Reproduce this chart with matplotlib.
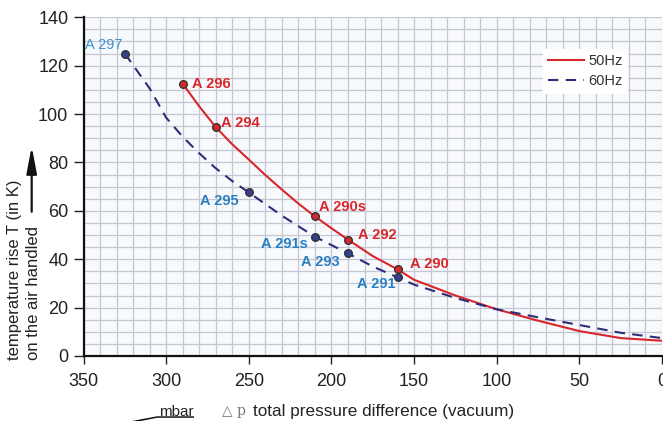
import matplotlib
matplotlib.use("Agg")
import matplotlib.pyplot as plt
from matplotlib.patches import FancyArrowPatch, Polygon
from matplotlib.ticker import MultipleLocator

plt.rcParams['font.family'] = ['Liberation Sans', 'DejaVu Sans']

# curve readings (pressure difference in mbar, temperature rise in K)
p_50 = [290, 280, 270, 260, 250, 240, 230, 220, 210, 200, 190, 175, 160, 150, 125, 100, 75, 50, 25, 0]
t_50 = [112.5, 103.2, 94.6, 87.5, 81.2, 74.8, 68.8, 63.0, 57.7, 52.8, 48.1, 41.3, 35.8, 31.5, 25.0, 19.3, 14.6, 10.3, 7.4, 6.3]
p_60 = [325, 310, 300, 290, 280, 270, 260, 250, 230, 210, 190, 175, 160, 150, 125, 100, 75, 50, 25, 0]
t_60 = [125.0, 110.6, 98.5, 90.6, 83.8, 77.6, 72.3, 67.6, 58.0, 49.3, 42.4, 37.0, 32.5, 29.5, 24.0, 19.3, 16.0, 12.8, 9.6, 7.4]

# labelled pump points
pts_50 = [290, 270, 210, 190, 160]
val_50 = [112.5, 94.6, 57.7, 48.1, 35.8]
lab_50 = ["A 296", "A 294", "A 290s", "A 292", "A 290"]
pts_60 = [325, 250, 210, 190, 160]
val_60 = [125.0, 67.6, 49.3, 42.4, 32.5]
lab_60 = ["A 297", "A 295", "A 291s", "A 293", "A 291"]

red = "#d8262a"
navy = "#2d2e78"
lblue = "#2b7fc1"

fig = plt.figure(figsize=(6.63, 4.21), dpi=100)
ax = fig.add_axes([0.126, 0.1544, 0.8725, 0.8045])
ax.set_facecolor("#f7f9fc")

ax.plot(p_50, t_50, color=red, lw=1.5, label="50Hz", zorder=3)
ax.plot(p_60, t_60, color=navy, lw=1.5, ls=(0, (5, 3.5)), label="60Hz", zorder=3)

ax.scatter(pts_50, val_50, s=30, color=red, edgecolor="#333333", lw=1.0, zorder=4)
ax.scatter(pts_60, val_60, s=30, color="#34408f", edgecolor="#333333", lw=1.0, zorder=4)

# label offsets in points
off_50 = [(7, 0), (4, 3), (3, 7), (7, 3), (9, 4)]
for p, t, s, o in zip(pts_50, val_50, lab_50, off_50):
    ax.annotate(s, (p, t), xytext=o, textcoords="offset points", color=red,
                fontsize=10.5, fontweight="bold", va="center", zorder=5)

off_60 = [(-2, 6), (-7, -6), (-5, -5), (-6, -6), (-1.5, -5)]
for i, (p, t, s, o) in enumerate(zip(pts_60, val_60, lab_60, off_60)):
    c = "#3d93d4" if i == 0 else lblue
    ax.annotate(s, (p, t), xytext=o, textcoords="offset points", color=c,
                fontsize=10.5, fontweight="normal" if i == 0 else "bold",
                ha="right", va="center", zorder=5)

ax.set_xlim(350, 0)
ax.set_ylim(0, 140)
ax.xaxis.set_major_locator(MultipleLocator(50))
ax.xaxis.set_minor_locator(MultipleLocator(10))
ax.yaxis.set_major_locator(MultipleLocator(20))
ax.yaxis.set_minor_locator(MultipleLocator(5))
ax.grid(which="both", color="#c3c7d3", lw=0.9, zorder=0)
ax.set_axisbelow(True)
ax.tick_params(which="minor", length=0)
ax.tick_params(axis="x", which="major", length=6, width=1.0, pad=6, labelsize=13, colors="#222222")
ax.tick_params(axis="y", which="major", length=7, width=1.0, pad=4, labelsize=13, colors="#222222")
for s in ["top", "right"]:
    ax.spines[s].set_visible(False)
for s in ["left", "bottom"]:
    ax.spines[s].set_linewidth(1.6)
    ax.spines[s].set_color("#111111")

leg = ax.legend(loc="upper right", bbox_to_anchor=(0.94, 0.905), frameon=True, fancybox=False,
                edgecolor="white", framealpha=1, fontsize=10.5, handlelength=2.5,
                handletextpad=0.3, borderpad=0.3, labelspacing=0.45, borderaxespad=0)
for t in leg.get_texts():
    t.set_color("#333333")

# y axis label with arrow
fig.text(0.0226, 0.145, "temperature rise T (in K)", rotation=90, ha="center", va="bottom",
         fontsize=12, color="#222222")
fig.text(0.0498, 0.145, "on the air handled", rotation=90, ha="center", va="bottom",
         fontsize=12, color="#222222")
fig.add_artist(FancyArrowPatch((0.0478, 0.497), (0.0478, 0.652), transform=fig.transFigure,
               arrowstyle="-|>,head_length=1.15,head_width=0.22", mutation_scale=14,
               color="#111111", lw=1.6, shrinkA=0, shrinkB=0))

# x axis label
fig.text(0.335, 0.024, "\u25b3 p", fontsize=10, color="#777777", family="DejaVu Serif",
         ha="left", va="center")
fig.text(0.3816, 0.022, "total pressure difference (vacuum)", fontsize=12.3, color="#222222",
         ha="left", va="center")
fig.text(0.240, 0.022, "mbar", fontsize=11, color="#222222", ha="left", va="center")
wedge = [(132, 421), (157, 416.3), (194, 416.3), (194, 417.8), (157, 417.8), (141, 421)]
fig.add_artist(Polygon([(x / 663, 1 - y / 421) for x, y in wedge], closed=True,
                       transform=fig.transFigure, color="#111111", lw=0))

fig.savefig("out.png", dpi=100)
